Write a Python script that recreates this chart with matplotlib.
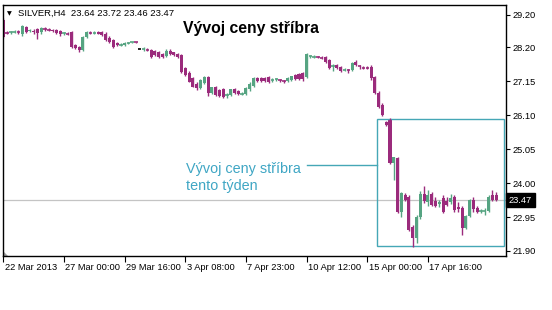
import matplotlib
matplotlib.use("Agg")
import matplotlib.pyplot as plt
import matplotlib.transforms as mtransforms
from matplotlib.patches import Rectangle, Polygon

# --- data -------------------------------------------------------------
symbol_line = "SILVER,H4  23.64 23.72 23.46 23.47"
chart_title = "Vývoj ceny stříbra"
note_lines = ["Vývoj ceny stříbra", "tento týden"]

opens = [29.05, 28.66, 28.65, 28.67, 28.68, 28.60, 28.83, 28.70, 28.72, 28.77,
         28.66, 28.78, 28.76, 28.73, 28.73, 28.70, 28.63, 28.63, 28.67, 28.27,
         28.20, 28.12, 28.52, 28.66, 28.65, 28.68, 28.66, 28.62, 28.50, 28.42,
         28.32, 28.28, 28.27, 28.34, 28.35, 28.36, 28.15, 28.14, 28.13, 28.12,
         28.10, 28.04, 28.00, 27.93, 28.10, 28.04, 27.98, 27.95, 27.55, 27.40,
         27.24, 27.08, 26.95, 27.10, 27.28, 26.80, 26.96, 26.88, 26.90, 26.70,
         26.72, 26.90, 26.86, 26.76, 26.76, 26.90, 27.01, 27.25, 27.24, 27.24,
         27.27, 27.18, 27.20, 27.19, 27.16, 27.16, 27.20, 27.34, 27.37, 27.40,
         27.28, 27.92, 27.90, 27.90, 27.89, 27.90, 27.80, 27.62, 27.66, 27.58,
         27.50, 27.50, 27.50, 27.76, 27.62, 27.58, 27.57, 27.59, 27.28, 26.80,
         26.42, 25.89, 25.95, 24.63, 24.78, 23.12, 23.64, 23.58, 22.64, 22.30,
         22.95, 23.65, 23.40, 23.65, 23.46, 23.34, 23.55, 23.46, 23.40, 23.58,
         23.25, 23.22, 22.62, 22.98, 23.48, 23.22, 23.12, 23.12, 23.15, 23.62,
         23.64]
highs = [29.10, 28.72, 28.70, 28.74, 28.73, 28.90, 28.86, 28.76, 28.76, 28.80,
         28.84, 28.82, 28.80, 28.78, 28.78, 28.74, 28.68, 28.66, 28.70, 28.30,
         28.24, 28.55, 28.70, 28.72, 28.70, 28.71, 28.70, 28.66, 28.56, 28.46,
         28.35, 28.32, 28.36, 28.37, 28.37, 28.37, 28.15, 28.22, 28.17, 28.16,
         28.13, 28.08, 28.02, 28.14, 28.14, 28.06, 28.02, 27.98, 27.60, 27.46,
         27.28, 27.12, 27.22, 27.32, 27.30, 26.98, 27.00, 26.92, 26.94, 26.80,
         26.92, 26.94, 26.89, 26.82, 26.98, 27.12, 27.28, 27.28, 27.28, 27.28,
         27.30, 27.24, 27.26, 27.23, 27.20, 27.28, 27.32, 27.38, 27.40, 27.43,
         28.02, 27.97, 27.95, 27.94, 27.93, 27.93, 27.84, 27.68, 27.69, 27.62,
         27.56, 27.54, 27.76, 27.80, 27.66, 27.62, 27.61, 27.64, 27.32, 26.84,
         26.47, 25.93, 26.02, 24.82, 24.82, 23.74, 23.70, 23.62, 22.70, 23.00,
         23.75, 23.90, 23.80, 23.72, 23.58, 23.48, 23.62, 23.56, 23.66, 23.62,
         23.40, 23.30, 23.02, 23.52, 23.56, 23.28, 23.20, 23.22, 23.62, 23.79,
         23.72]
lows = [28.50, 28.60, 28.62, 28.63, 28.62, 28.56, 28.64, 28.66, 28.60, 28.46,
        28.62, 28.72, 28.70, 28.66, 28.62, 28.56, 28.58, 28.58, 28.18, 28.14,
        28.06, 28.08, 28.48, 28.62, 28.60, 28.60, 28.56, 28.40, 28.34, 28.18,
        28.24, 28.24, 28.25, 28.31, 28.33, 28.33, 28.15, 28.10, 28.08, 27.88,
        27.94, 27.86, 27.88, 27.90, 27.96, 27.94, 27.88, 27.40, 27.30, 27.12,
        26.96, 26.88, 26.92, 27.06, 26.70, 26.76, 26.70, 26.66, 26.62, 26.64,
        26.70, 26.76, 26.74, 26.73, 26.74, 26.86, 26.98, 27.14, 27.14, 27.12,
        27.10, 27.14, 27.16, 27.14, 27.10, 27.12, 27.17, 27.18, 27.18, 27.16,
        27.26, 27.88, 27.86, 27.86, 27.84, 27.72, 27.52, 27.48, 27.52, 27.44,
        27.46, 27.40, 27.46, 27.62, 27.54, 27.54, 27.53, 27.20, 26.76, 26.32,
        26.08, 25.78, 24.60, 24.10, 23.08, 22.95, 23.45, 22.52, 22.02, 22.15,
        22.90, 23.38, 23.30, 23.28, 23.26, 23.25, 23.06, 23.28, 23.35, 23.12,
        23.10, 22.40, 22.58, 22.95, 23.12, 23.06, 23.08, 23.02, 23.12, 23.44,
        23.46]
closes = [28.52, 28.65, 28.67, 28.70, 28.66, 28.86, 28.68, 28.73, 28.68, 28.64,
          28.80, 28.77, 28.74, 28.70, 28.64, 28.61, 28.64, 28.62, 28.21, 28.18,
          28.11, 28.52, 28.67, 28.64, 28.66, 28.62, 28.58, 28.43, 28.37, 28.22,
          28.27, 28.29, 28.34, 28.35, 28.36, 28.35, 28.15, 28.15, 28.12, 27.90,
          27.97, 27.90, 27.90, 28.10, 27.99, 27.96, 27.90, 27.44, 27.34, 27.14,
          26.98, 26.95, 27.19, 27.28, 26.78, 26.96, 26.73, 26.68, 26.66, 26.72,
          26.90, 26.79, 26.76, 26.78, 26.95, 27.08, 27.25, 27.16, 27.17, 27.15,
          27.13, 27.19, 27.21, 27.18, 27.15, 27.25, 27.30, 27.22, 27.21, 27.21,
          27.99, 27.93, 27.91, 27.89, 27.88, 27.75, 27.56, 27.64, 27.56, 27.47,
          27.52, 27.49, 27.73, 27.65, 27.60, 27.57, 27.56, 27.24, 26.80, 26.36,
          26.12, 25.80, 24.63, 24.80, 23.12, 23.68, 23.48, 22.56, 22.30, 22.95,
          23.65, 23.44, 23.62, 23.32, 23.30, 23.42, 23.10, 23.32, 23.53, 23.16,
          23.20, 22.62, 22.98, 23.48, 23.20, 23.10, 23.14, 23.15, 23.58, 23.48,
          23.47]

price_ticks = [29.20, 28.20, 27.15, 26.10, 25.05, 24.00, 22.95, 21.90]
time_tick_bars = [0, 16, 32, 48, 64, 80, 96, 112]
time_tick_labels = ["22 Mar 2013", "27 Mar 00:00", "29 Mar 16:00", "3 Apr 08:00",
                    "7 Apr 23:00", "10 Apr 12:00", "15 Apr 00:00", "17 Apr 16:00"]

BULL = "#56a482"
BEAR = "#9b2b7c"
NOTE = "#3fa6c4"
BOX = "#45a7b6"
FONT = "Liberation Sans"

W, H = 552, 310
fig = plt.figure(figsize=(W / 100, H / 100), dpi=100)
fig.patch.set_facecolor("white")
ax = fig.add_axes([3 / W, 1 - 256 / H, 503 / W, 251 / H])

# --- candles ----------------------------------------------------------
body_w = 0.8
for i, (o, h, l, c) in enumerate(zip(opens, highs, lows, closes)):
    if c > o:
        col = BULL
    elif c < o:
        col = BEAR
    else:
        col = "black"
    if h > l:
        ax.vlines(i, l, h, color=col, linewidth=1.0)
    if abs(c - o) < 0.03:
        ax.hlines((o + c) / 2, i - body_w / 2 - 0.05, i + body_w / 2 + 0.05,
                  color=col, linewidth=1.2)
    else:
        ax.bar(i, abs(c - o), bottom=min(o, c), width=body_w, color=col,
               linewidth=0)

last_price = closes[-1]
ax.axhline(last_price, color="#c4c4c4", linewidth=0.9, zorder=0)

# weekly range box with its callout line
ax.add_patch(Rectangle((98.6, 22.055), 132.1 - 98.6, 25.98 - 22.055,
                       fill=False, edgecolor=BOX, linewidth=1.0))
ax.plot([80.1, 98.6], [24.56, 24.56], color=BOX, linewidth=1.0)

# chart-shift marker in the lower left corner
ax.add_patch(Polygon([(0, 0), (0, 5 / 251), (5 / 503, 0)], closed=True,
                     transform=ax.transAxes, facecolor="#a0a0a0",
                     edgecolor="none", clip_on=False))

# --- axes -------------------------------------------------------------
ax.set_xlim(-0.08, 132.6)
ax.set_ylim(21.745, 29.509)
for sp in ax.spines.values():
    sp.set_linewidth(1.0)
    sp.set_color("black")

ax.yaxis.tick_right()
ax.set_yticks(price_ticks)
ax.set_yticklabels([f"{p:.2f}" for p in price_ticks])
ax.tick_params(axis="y", direction="out", length=3, width=0.8, pad=2,
               labelsize=6.7, colors="black")
ax.set_xticks(time_tick_bars)
ax.set_xticklabels(time_tick_labels, ha="left")
ax.tick_params(axis="x", direction="out", length=4, width=0.8, pad=1.2,
               labelsize=6.7, colors="black")
for lab in ax.get_xticklabels() + ax.get_yticklabels():
    lab.set_family(FONT)
offset = mtransforms.ScaledTranslation(1.5 / 100, 0, fig.dpi_scale_trans)
for lab in ax.get_xticklabels():
    lab.set_transform(lab.get_transform() + offset)

# current price tag
trans = mtransforms.blended_transform_factory(ax.transAxes, ax.transData)
ax.text(1.006, last_price, f"{last_price:.2f}", transform=trans, ha="left",
        va="center", fontsize=6.7, family=FONT, color="white",
        bbox=dict(boxstyle="square,pad=0.28", facecolor="black",
                  edgecolor="black"))

# --- texts ------------------------------------------------------------
fig.text(9.5 / W, 1 - 13.5 / H, "▼", fontsize=4.5, family="DejaVu Sans",
         ha="center", va="center", color="black")
fig.text(18 / W, 1 - 13.5 / H, symbol_line, fontsize=6.8, family=FONT,
         ha="left", va="center", color="black")
fig.text(183 / W, 1 - 28 / H, chart_title, fontsize=11.3, family=FONT,
         fontweight="bold", ha="left", va="center", color="black")
fig.text(186 / W, 1 - 169 / H, note_lines[0], fontsize=10.4, family=FONT,
         ha="left", va="center", color=NOTE)
fig.text(186 / W, 1 - 186 / H, note_lines[1], fontsize=10.4, family=FONT,
         ha="left", va="center", color=NOTE)

fig.savefig("out.png", dpi=100, facecolor="white")
